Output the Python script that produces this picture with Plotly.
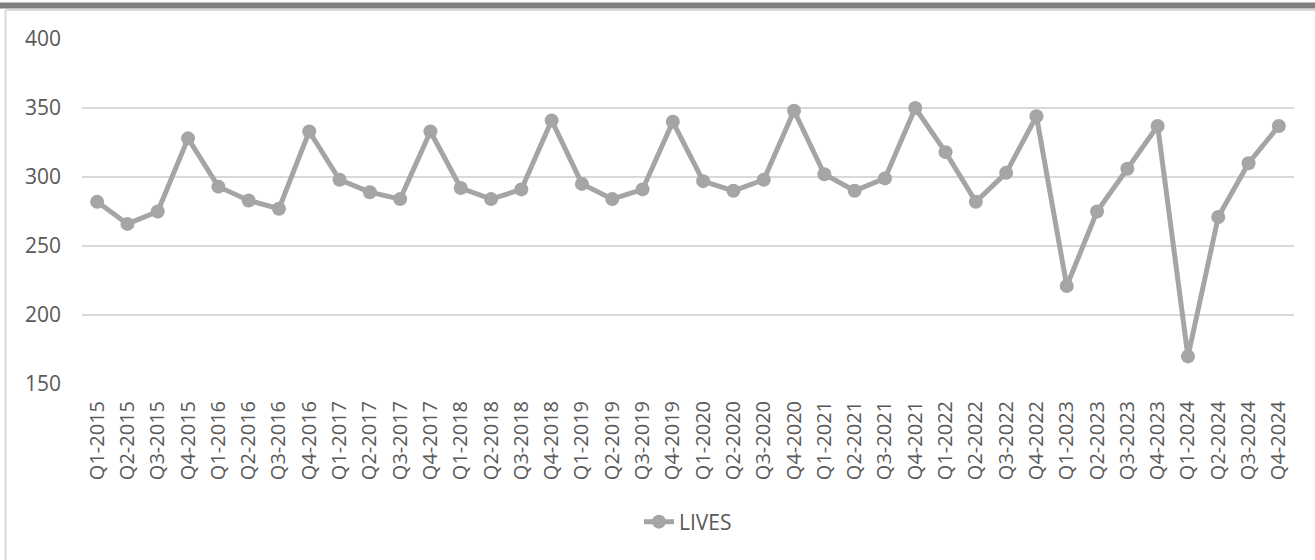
import plotly.graph_objects as go

categories = [f"Q{q}-{y}" for y in range(2015, 2025) for q in range(1, 5)]
lives = [282, 266, 275, 328, 293, 283, 277, 333,
         298, 289, 284, 333, 292, 284, 291, 341,
         295, 284, 291, 340, 297, 290, 298, 348,
         302, 290, 299, 350, 318, 282, 303, 344,
         221, 275, 306, 337, 170, 271, 310, 337]
y_ticks = [150, 200, 250, 300, 350, 400]

W, H = 1315, 560
L, R, T, B = 82, 21, 39, 176
PW, PH = W - L - R, H - T - B

def px(x):
    return (x - L) / PW

def py(y):
    return (H - B - y) / PH

color = "#a5a5a5"
text_color = "#595959"
font_family = "Open Sans, Liberation Sans, sans-serif"

fig = go.Figure()
fig.add_trace(go.Scatter(
    x=categories, y=lives, mode="lines+markers", name="LIVES",
    line=dict(color=color, width=5),
    marker=dict(color=color, size=14, symbol="circle"),
))

fig.update_layout(
    width=W, height=H,
    margin=dict(l=L, r=R, t=T, b=B, pad=0),
    paper_bgcolor="white", plot_bgcolor="white",
    font=dict(family=font_family, size=21, color=text_color),
    showlegend=True,
    legend=dict(orientation="h", x=0.5, xanchor="center", y=py(522), yanchor="middle",
                font=dict(size=21, color=text_color), bgcolor="rgba(0,0,0,0)"),
    xaxis=dict(type="category", categoryorder="array", categoryarray=categories,
               range=[-0.5, len(categories) - 0.5], tickangle=-90,
               showgrid=False, zeroline=False, showline=False, ticks="",
               ticklabelstandoff=12, tickfont=dict(size=20, color=text_color)),
    yaxis=dict(range=[150, 400], tickvals=y_ticks, showgrid=True,
               gridcolor="#d9d9d9", gridwidth=1.5, zeroline=False, showline=False,
               ticks="", ticklabelstandoff=20, tickfont=dict(size=21, color=text_color)),
    shapes=[
        dict(type="rect", xref="paper", yref="paper", x0=px(0), x1=px(W), y0=py(8.5), y1=py(2.5),
             fillcolor="#7f7f7f", line=dict(width=0), layer="above"),
        dict(type="line", xref="paper", yref="paper", x0=px(5.5), x1=px(W + 5), y0=py(10), y1=py(10),
             line=dict(color="#d9d9d9", width=2), layer="below"),
        dict(type="line", xref="paper", yref="paper", x0=px(5.5), x1=px(5.5), y0=py(10), y1=py(H + 5),
             line=dict(color="#d9d9d9", width=2), layer="below"),
    ],
)

fig.write_html("out.html", config={"displayModeBar": False},
               post_script="document.body.style.margin='0';document.body.style.overflow='hidden';")
